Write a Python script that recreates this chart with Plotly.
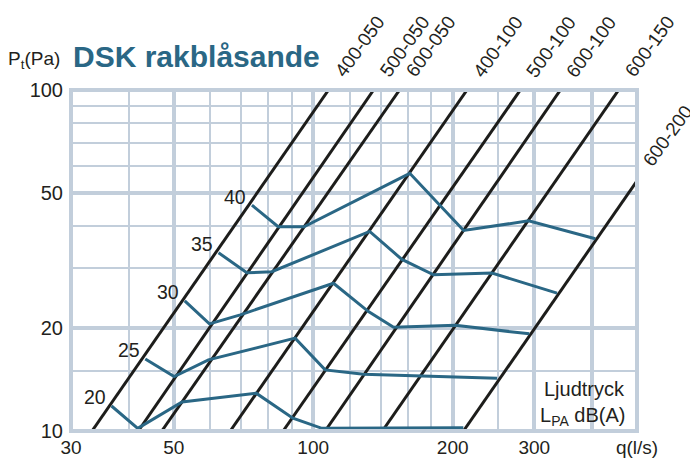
import numpy as np
import plotly.graph_objects as go

# Diffuser models (black lines): flow q (l/s) read at 10 Pa and at 100 Pa
models = ["400-050", "500-050", "600-050", "400-100", "500-100", "600-100", "600-150", "600-200"]
q_at_10Pa = [33.3, 41.9, 47.1, 66.2, 86.1, 106.1, 141.0, 211.0]
q_at_100Pa = [107.9, 135.0, 153.6, 214.8, 280.0, 341.7, 456.4, 684.0]

# Sound pressure contours LpA dB(A)
levels = [20, 25, 30, 35, 40]
q_20 = [36.7, 41.8, 52.1, 75.3, 90.4, 104.4, 210.9]
p_20 = [11.84, 10.18, 12.17, 12.91, 10.9, 10.18, 10.22]
q_25 = [43.4, 50.1, 59.4, 91.4, 106.1, 128.4, 249.4]
p_25 = [16.27, 14.44, 16.16, 18.72, 15.11, 14.66, 14.28]
q_30 = [52.8, 59.7, 69.6, 110.6, 131.6, 149.1, 202.7, 292.8]
p_30 = [24.09, 20.62, 21.91, 27.12, 22.4, 20.14, 20.41, 19.27]
q_35 = [62.45, 71.9, 81.4, 132.4, 155.4, 181.9, 243.2, 336.0]
p_35 = [33.33, 29.11, 29.31, 38.47, 31.85, 28.72, 29.05, 25.38]
q_40 = [73.74, 84.0, 95.5, 161.6, 211.2, 291.7, 406.5]
p_40 = [45.94, 39.71, 39.71, 56.98, 38.74, 41.32, 36.64]

x_tickvals = [30, 50, 100, 200, 300, 400, 500]
x_ticktext = ["30", "50", "100", "200", "300", "", "q(l/s)"]
x_minor = [40, 60, 70, 80, 90, 120, 140, 160, 180, 250]
y_tickvals = [10, 20, 50, 100]
y_ticktext = ["10", "20", "50", "100"]
y_minor = [15, 30, 40, 60, 70, 80, 90]

X_MAX = 500
BLUE = "#2a6785"
BLACK = "#1d1d1b"
GRID = "#c2cedb"
TXT = "#231f20"
FONT = "Liberation Sans, Arial, Helvetica, sans-serif"

fig = go.Figure()

for m, q10, q100 in zip(models, q_at_10Pa, q_at_100Pa):
    fig.add_trace(go.Scatter(x=[q10, q100], y=[10, 100], mode="lines",
                             line=dict(color=BLACK, width=3), name=m,
                             showlegend=False, hoverinfo="skip"))

curves = [(q_20, p_20), (q_25, p_25), (q_30, p_30), (q_35, p_35), (q_40, p_40)]
for lev, (qs, ps) in zip(levels, curves):
    fig.add_trace(go.Scatter(x=qs, y=ps, mode="lines",
                             line=dict(color=BLUE, width=3), name=f"{lev} dB(A)",
                             showlegend=False))

annotations = []
for m, q10, q100 in zip(models, q_at_10Pa, q_at_100Pa):
    if q100 <= X_MAX:
        ax, ay, dx, dy = np.log10(q100), 2.0, 31, 43.5
    else:
        ay = 1 + np.log10(X_MAX / q10) / np.log10(q100 / q10)
        ax, dx, dy = np.log10(X_MAX), 31, 45
    annotations.append(dict(x=ax, y=ay, xref="x", yref="y", text=m, showarrow=False,
                            textangle=-54, xshift=dx, yshift=dy,
                            xanchor="center", yanchor="middle",
                            font=dict(family=FONT, size=19, color=TXT)))

for lev, (qs, ps) in zip(levels, curves):
    annotations.append(dict(x=np.log10(qs[0]), y=np.log10(ps[0]), xref="x", yref="y",
                            text=str(lev), showarrow=False, xshift=-16.5, yshift=8.5,
                            xanchor="center", yanchor="middle",
                            font=dict(family=FONT, size=19.5, color=TXT)))

annotations += [
    dict(x=0, y=1.098, xref="paper", yref="paper", text="<b>DSK rakblåsande</b>",
         showarrow=False, xanchor="left", yanchor="middle",
         font=dict(family=FONT, size=30, color=BLUE)),
    dict(x=-0.016, y=1.087, xref="paper", yref="paper", text="P<sub>t</sub>(Pa)",
         showarrow=False, xanchor="right", yanchor="middle",
         font=dict(family=FONT, size=19, color=TXT)),
    dict(x=0.982, y=0.122, xref="paper", yref="paper", text="Ljudtryck",
         showarrow=False, xanchor="right", yanchor="middle",
         font=dict(family=FONT, size=20, color=TXT)),
    dict(x=0.982, y=0.043, xref="paper", yref="paper", text="L<sub>PA</sub> dB(A)",
         showarrow=False, xanchor="right", yanchor="middle",
         font=dict(family=FONT, size=20, color=TXT)),
]

# the page body has an 8px default margin, so the figure is 8px smaller
fig.update_layout(
    width=690, height=450,
    margin=dict(l=63, r=61, t=82, b=27, autoexpand=False),
    paper_bgcolor="white", plot_bgcolor="white",
    font=dict(family=FONT, size=20, color=TXT),
    annotations=annotations,
    shapes=[dict(type="rect", xref="paper", yref="paper", x0=0, x1=1, y0=0, y1=1,
                 line=dict(color=GRID, width=4), layer="above")],
    xaxis=dict(type="log", range=[np.log10(30), np.log10(X_MAX)],
               tickmode="array", tickvals=x_tickvals, ticktext=x_ticktext,
               showgrid=True, gridcolor=GRID, gridwidth=4, zeroline=False,
               showline=False, ticks="", ticklabelstandoff=3, automargin=False,
               tickfont=dict(size=19),
               minor=dict(tickmode="array", tickvals=x_minor, showgrid=True,
                          gridcolor=GRID, gridwidth=1.5, ticks="")),
    yaxis=dict(type="log", range=[1, 2],
               tickmode="array", tickvals=y_tickvals, ticktext=y_ticktext,
               showgrid=True, gridcolor=GRID, gridwidth=4, zeroline=False,
               showline=False, ticks="", ticklabelstandoff=7, automargin=False,
               tickfont=dict(size=20),
               minor=dict(tickmode="array", tickvals=y_minor, showgrid=True,
                          gridcolor=GRID, gridwidth=1.5, ticks="")),
)

fig.write_html("out.html")
